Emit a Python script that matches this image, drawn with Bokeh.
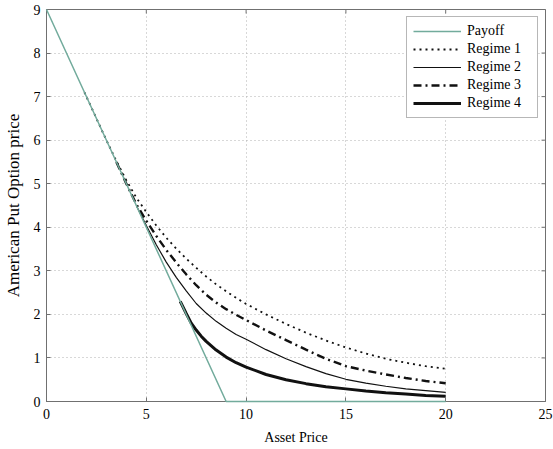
from bokeh.plotting import figure
from bokeh.models import Range1d, Legend, LegendItem, FixedTicker
from bokeh.embed import file_html
from bokeh.resources import INLINE

# ---- data ----
x_ticks = [0, 5, 10, 15, 20, 25]
y_ticks = [0, 1, 2, 3, 4, 5, 6, 7, 8, 9]

payoff_s = [0, 9, 20]
payoff_v = [9, 0, 0]

r1_s = [1.9, 2.5, 3.0, 3.5, 4.0, 4.5, 5.0, 5.5, 6.0, 6.5, 7.0, 7.5, 8.0, 8.5, 9.0, 9.5, 10,
        11, 12, 13, 14, 15, 16, 17, 18, 19, 20]
r1_v = [7.1, 6.5, 6.0, 5.52, 5.08, 4.68, 4.35, 4.04, 3.76, 3.51, 3.28, 3.07, 2.87, 2.69, 2.53, 2.38, 2.24,
        2.00, 1.78, 1.58, 1.40, 1.24, 1.10, 0.98, 0.89, 0.81, 0.75]

r2_s = [4.5, 5.0, 5.5, 6.0, 6.5, 7.0, 7.5, 8.0, 8.5, 9.0, 9.5, 10,
        11, 12, 13, 14, 15, 16, 17, 18, 19, 20]
r2_v = [4.5, 4.04, 3.60, 3.20, 2.85, 2.54, 2.25, 2.03, 1.84, 1.68, 1.54, 1.43,
        1.19, 0.98, 0.80, 0.64, 0.51, 0.42, 0.35, 0.29, 0.25, 0.21]

r3_s = [3.5, 4.0, 4.5, 5.0, 5.5, 6.0, 6.5, 7.0, 7.5, 8.0, 8.5, 9.0, 9.5, 10,
        11, 12, 13, 14, 15, 16, 17, 18, 19, 20]
r3_v = [5.5, 5.0, 4.53, 4.15, 3.80, 3.48, 3.19, 2.92, 2.67, 2.45, 2.27, 2.12, 1.99, 1.87,
        1.63, 1.41, 1.19, 0.98, 0.81, 0.71, 0.62, 0.54, 0.47, 0.42]

r4_s = [6.7, 7.0, 7.25, 7.5, 7.75, 8.0, 8.5, 9.0, 9.5, 10,
        11, 12, 13, 14, 15, 16, 17, 18, 19, 20]
r4_v = [2.3, 2.02, 1.80, 1.64, 1.50, 1.38, 1.18, 1.02, 0.89, 0.79,
        0.62, 0.50, 0.41, 0.34, 0.29, 0.24, 0.20, 0.17, 0.14, 0.12]

labels = ["Payoff", "Regime 1", "Regime 2", "Regime 3", "Regime 4"]

FONT = "Liberation Serif"
FRAME = "#707070"

p = figure(width=553, height=449, x_range=Range1d(0, 25), y_range=Range1d(0, 9),
           output_backend="svg", toolbar_location=None,
           min_border_left=46, min_border_right=8, min_border_top=9, min_border_bottom=48,
           x_axis_label="Asset Price", y_axis_label="American Put Option price")
p.outline_line_color = FRAME
p.background_fill_color = "white"
p.border_fill_color = "white"

for ax, ticks in ((p.xaxis[0], x_ticks), (p.yaxis[0], y_ticks)):
    ax.ticker = FixedTicker(ticks=ticks)
    ax.major_tick_in = 4
    ax.major_tick_out = 0
    ax.minor_tick_line_color = None
    ax.axis_line_color = FRAME
    ax.major_tick_line_color = FRAME
    ax.major_label_text_font = FONT
    ax.major_label_text_font_size = "14px"
    ax.major_label_text_color = "black"
    ax.axis_label_text_font = FONT
    ax.axis_label_text_font_style = "normal"
    ax.axis_label_text_color = "black"

p.xaxis.axis_label_text_font_size = "14px"
p.yaxis.axis_label_text_font_size = "17px"
p.xaxis.major_label_standoff = 7
p.xaxis.axis_label_standoff = 8
p.yaxis.major_label_standoff = 6
p.yaxis.axis_label_standoff = 8

for g in (p.xgrid[0], p.ygrid[0]):
    g.grid_line_color = "#b0b0b0"
    g.grid_line_dash = "1 3"
    g.grid_line_width = 1

# mirrored inward ticks on the top and right edges of the box
p.scatter(x=x_ticks, y=[9] * len(x_ticks), marker="dash", angle=1.5708, size=8,
          line_color=FRAME, line_width=1)
p.scatter(x=[25] * len(y_ticks), y=y_ticks, marker="dash", size=8,
          line_color=FRAME, line_width=1)

r0 = p.line(payoff_s, payoff_v, line_color="#72ab9c", line_width=1.5)
r0.level = "overlay"
r1 = p.line(r1_s, r1_v, line_color="#111111", line_width=1.8, line_dash="2 4")
r2 = p.line(r2_s, r2_v, line_color="#111111", line_width=1.2)
r3 = p.line(r3_s, r3_v, line_color="#111111", line_width=2.4, line_dash="8 4 2 4")
r4 = p.line(r4_s, r4_v, line_color="#111111", line_width=3)

legend = Legend(items=[LegendItem(label=l, renderers=[r]) for l, r in
                       zip(labels, [r0, r1, r2, r3, r4])],
                location="top_right")
legend.label_text_font = FONT
legend.label_text_font_size = "14px"
legend.label_text_color = "black"
legend.glyph_width = 48
legend.glyph_height = 16
legend.label_height = 16
legend.label_width = 64
legend.label_standoff = 6
legend.spacing = 2
legend.padding = 6
legend.margin = 7
legend.border_line_color = FRAME
legend.border_line_width = 1
legend.background_fill_alpha = 1
p.add_layout(legend)

open("out.html", "w").write(file_html(p, INLINE))
